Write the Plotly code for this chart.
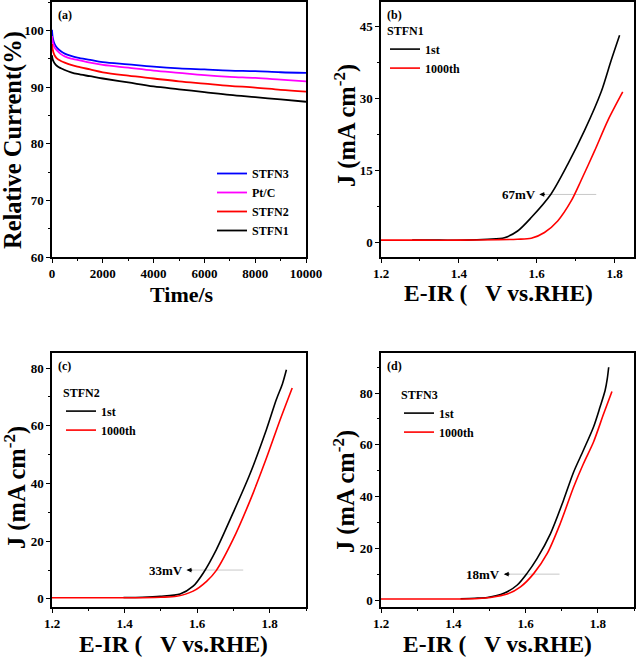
import plotly.graph_objects as go

# ---------------- data ----------------
# (a) chronoamperometry
t_s = [0, 20, 50, 100, 200, 350, 500, 750, 1000, 1500, 2000, 3000, 4000, 5000, 6000, 7000, 8000, 9000, 10000]
stfn3_rel = [100.1, 99.0, 98.3, 97.6, 96.9, 96.3, 95.9, 95.5, 95.2, 94.8, 94.4, 94.0, 93.6, 93.3, 93.1, 92.9, 92.8, 92.6, 92.5]
ptc_rel = [99.0, 98.2, 97.6, 97.0, 96.4, 95.8, 95.4, 95.0, 94.8, 94.3, 93.9, 93.4, 92.9, 92.5, 92.1, 91.8, 91.6, 91.3, 91.0]
stfn2_rel = [97.6, 96.8, 96.2, 95.6, 95.0, 94.6, 94.3, 93.9, 93.6, 93.1, 92.6, 92.0, 91.5, 91.0, 90.6, 90.2, 89.9, 89.5, 89.2]
stfn1_rel = [95.6, 95.0, 94.6, 94.2, 93.7, 93.3, 93.0, 92.6, 92.3, 91.9, 91.5, 90.8, 90.1, 89.6, 89.1, 88.6, 88.2, 87.8, 87.4]

# (b) STFN1 LSV
b1_v = [1.28, 1.35, 1.42, 1.474, 1.517, 1.551, 1.586, 1.637, 1.68, 1.723, 1.766, 1.791, 1.813]
b1_j = [0.5, 0.5, 0.5, 0.7, 1.0, 2.4, 5.2, 10.1, 16.3, 23.3, 31.4, 37.8, 43.1]
b2_v = [1.2, 1.3, 1.4, 1.5, 1.55, 1.586, 1.62, 1.654, 1.689, 1.714, 1.749, 1.783, 1.821]
b2_j = [0.5, 0.5, 0.5, 0.6, 0.7, 0.9, 2.1, 4.5, 8.7, 12.9, 19.1, 25.4, 31.3]
b_mark = [1.607, 1.753]

# (c) STFN2 LSV
c1_v = [1.397, 1.45, 1.498, 1.553, 1.589, 1.617, 1.653, 1.699, 1.745, 1.791, 1.818, 1.835, 1.846]
c1_j = [0.5, 0.6, 0.9, 1.7, 4.4, 9.0, 17.1, 29.8, 43.1, 58.7, 69.0, 74.5, 79.4]
c2_v = [1.2, 1.3, 1.4, 1.5, 1.543, 1.589, 1.626, 1.653, 1.699, 1.745, 1.791, 1.827, 1.862]
c2_j = [0.4, 0.4, 0.4, 0.6, 0.9, 2.7, 6.1, 9.9, 20.6, 33.8, 48.8, 61.5, 73.1]
c_mark = [1.571, 1.727]

# (d) STFN3 LSV
d1_v = [1.42, 1.46, 1.494, 1.54, 1.577, 1.604, 1.632, 1.669, 1.705, 1.733, 1.76, 1.788, 1.806, 1.82, 1.826, 1.83]
d1_j = [0.5, 0.7, 1.0, 2.6, 5.8, 10.3, 16.1, 25.7, 38.6, 49.5, 57.9, 66.9, 74.6, 81.0, 85.5, 90.0]
d2_v = [1.2, 1.3, 1.4, 1.47, 1.503, 1.549, 1.586, 1.623, 1.66, 1.696, 1.733, 1.76, 1.788, 1.816, 1.839]
d2_j = [0.4, 0.4, 0.4, 0.6, 1.0, 2.3, 5.1, 10.3, 18.0, 29.6, 43.7, 52.7, 61.1, 72.0, 80.6]
d_mark = [1.54, 1.694]

FONT = "Liberation Serif"
W, H = 638, 658

def px_x(p):
    return p / W

def px_y(p):
    return 1 - p / H

def dom_x(l, r):
    return [px_x(l), px_x(r)]

def dom_y(top, bot):
    return [px_y(bot), px_y(top)]

fig = go.Figure()

# (a)
for name, ys, col in [("STFN3", stfn3_rel, "#0000ff"), ("Pt/C", ptc_rel, "#ff00ff"),
                      ("STFN2", stfn2_rel, "#ff0000"), ("STFN1", stfn1_rel, "#000000")]:
    fig.add_trace(go.Scatter(x=t_s, y=ys, mode="lines", name=name, line=dict(color=col, width=1.8, shape="spline"),
                             xaxis="x", yaxis="y", legend="legend"))

def lsv(xa, ya, leg, v1, j1, v2, j2, mark, label):
    fig.add_trace(go.Scatter(x=mark, y=[10, 10], mode="lines", line=dict(color="#c8c8c8", width=1),
                             showlegend=False, xaxis=xa, yaxis=ya))
    fig.add_trace(go.Scatter(x=v1, y=j1, mode="lines", name="1st", line=dict(color="#000000", width=1.6, shape="spline", smoothing=0.8),
                             xaxis=xa, yaxis=ya, legend=leg))
    fig.add_trace(go.Scatter(x=v2, y=j2, mode="lines", name="1000th", line=dict(color="#ff0000", width=1.6, shape="spline", smoothing=0.8),
                             xaxis=xa, yaxis=ya, legend=leg))
    fig.add_annotation(x=mark[0], y=10, xref=xa, yref=ya, text="", showarrow=True, ax=7, ay=0,
                       arrowhead=2, arrowsize=0.8, arrowwidth=1.2, arrowcolor="black")
    fig.add_annotation(x=mark[0] - 0.004, y=10, xref=xa, yref=ya, text=label, showarrow=False,
                       xanchor="right", yanchor="middle", font=dict(family=FONT, size=13, color="black", weight="bold"))

lsv("x2", "y2", "legend2", b1_v, b1_j, b2_v, b2_j, b_mark, "67mV")
lsv("x3", "y3", "legend3", c1_v, c1_j, c2_v, c2_j, c_mark, "33mV")
lsv("x4", "y4", "legend4", d1_v, d1_j, d2_v, d2_j, d_mark, "18mV")

tickfont = dict(family=FONT, size=13, color="black", weight="bold")

def axis(domain, rng, dtick, minor_dtick, anchor, tick0=None):
    d = dict(domain=domain, range=rng, dtick=dtick, anchor=anchor, showgrid=False, zeroline=False,
             showline=True, linecolor="black", linewidth=1.5, mirror=True, automargin=False,
             ticks="outside", ticklen=4, tickwidth=1.2, tickcolor="black", tickfont=tickfont,
             tickformat="d" if dtick >= 1 else ".1f",
             minor=dict(dtick=minor_dtick, ticks="outside", ticklen=2.5, tickwidth=1, tickcolor="black", showgrid=False))
    if tick0 is not None:
        d["tick0"] = tick0
    return d

xa_dom = dom_x(52, 306)
xb_dom = dom_x(381, 634)
ytop = dom_y(2, 257)
ybot = dom_y(353, 607)

fig.update_layout(
    template="none",
    width=W, height=H, margin=dict(l=0, r=0, t=0, b=0, autoexpand=False),
    paper_bgcolor="white", plot_bgcolor="white", showlegend=True,
    xaxis=axis(xa_dom, [0, 10000], 2000, 1000, "y", tick0=0),
    yaxis=axis(ytop, [60, 105], 10, 5, "x", tick0=60),
    xaxis2=axis(xb_dom, [1.2, 1.85], 0.2, 0.1, "y2", tick0=1.2),
    yaxis2=axis(ytop, [-3, 50], 15, 7.5, "x2", tick0=0),
    xaxis3=axis(xa_dom, [1.2, 1.9], 0.2, 0.1, "y3", tick0=1.2),
    yaxis3=axis(ybot, [-2.8, 85.2], 20, 10, "x3", tick0=0),
    xaxis4=axis(xb_dom, [1.2, 1.9], 0.2, 0.1, "y4", tick0=1.2),
    yaxis4=axis(ybot, [-2.7, 95.5], 20, 10, "x4", tick0=0),
    # mirrored inner ticks on the right edge of panel (c)
    yaxis5=dict(domain=ybot, range=[-2.8, 85.2], dtick=20, tick0=0, overlaying="y3", anchor="x3", side="right",
                showgrid=False, zeroline=False, showline=False, ticks="inside", ticklen=5, tickwidth=1.2,
                tickcolor="black", showticklabels=False, automargin=False),
)

legfont = dict(family=FONT, size=12, color="black", weight="bold")
fig.update_layout(
    legend=dict(x=px_x(212), y=px_y(159), xanchor="left", yanchor="top", font=legfont, bgcolor="rgba(0,0,0,0)",
                tracegroupgap=0, itemwidth=30),
    legend2=dict(x=px_x(385), y=px_y(19), xanchor="left", yanchor="top", font=legfont, bgcolor="rgba(0,0,0,0)",
                 title=dict(text="STFN1", font=legfont), itemwidth=30),
    legend3=dict(x=px_x(61), y=px_y(381), xanchor="left", yanchor="top", font=legfont, bgcolor="rgba(0,0,0,0)",
                 title=dict(text="STFN2", font=legfont), itemwidth=30),
    legend4=dict(x=px_x(399), y=px_y(383), xanchor="left", yanchor="top", font=legfont, bgcolor="rgba(0,0,0,0)",
                 title=dict(text="STFN3", font=legfont), itemwidth=30),
)

# panel letters
for lbl, xr, yr in [("(a)", "x domain", "y domain"), ("(b)", "x2 domain", "y2 domain"),
                    ("(c)", "x3 domain", "y3 domain"), ("(d)", "x4 domain", "y4 domain")]:
    fig.add_annotation(x=0.015, y=0.985, xref=xr, yref=yr, text=lbl, showarrow=False, xanchor="left", yanchor="top",
                       font=dict(family=FONT, size=12, color="black", weight="bold"))

# axis titles
ev = "E-IR (\u00a0\u00a0\u00a0V vs.RHE)"
jt = "J (mA cm<sup>-2</sup>)"
x_titles = [("Time/s", 182, 294, 22), (ev, 498, 293, 23.5), (ev, 173, 644, 23.5), (ev, 497, 644, 23.5)]
y_titles = [("Relative Current(%)", 13, 140), (jt, 346, 126), (jt, 15, 488), (jt, 344, 492)]
for txt, cx, cy, sz in x_titles:
    fig.add_annotation(x=px_x(cx), y=px_y(cy), xref="paper", yref="paper", text=txt, showarrow=False,
                       xanchor="center", yanchor="middle", font=dict(family=FONT, size=sz, color="black", weight="bold"))
for txt, cx, cy in y_titles:
    fig.add_annotation(x=px_x(cx), y=px_y(cy), xref="paper", yref="paper", text=txt, showarrow=False, textangle=-90,
                       xanchor="center", yanchor="middle", font=dict(family=FONT, size=24.5, color="black", weight="bold"))

fig.write_html("out.html", config={"displayModeBar": False},
               post_script="document.body.style.margin='0px';document.body.style.overflow='hidden';")
